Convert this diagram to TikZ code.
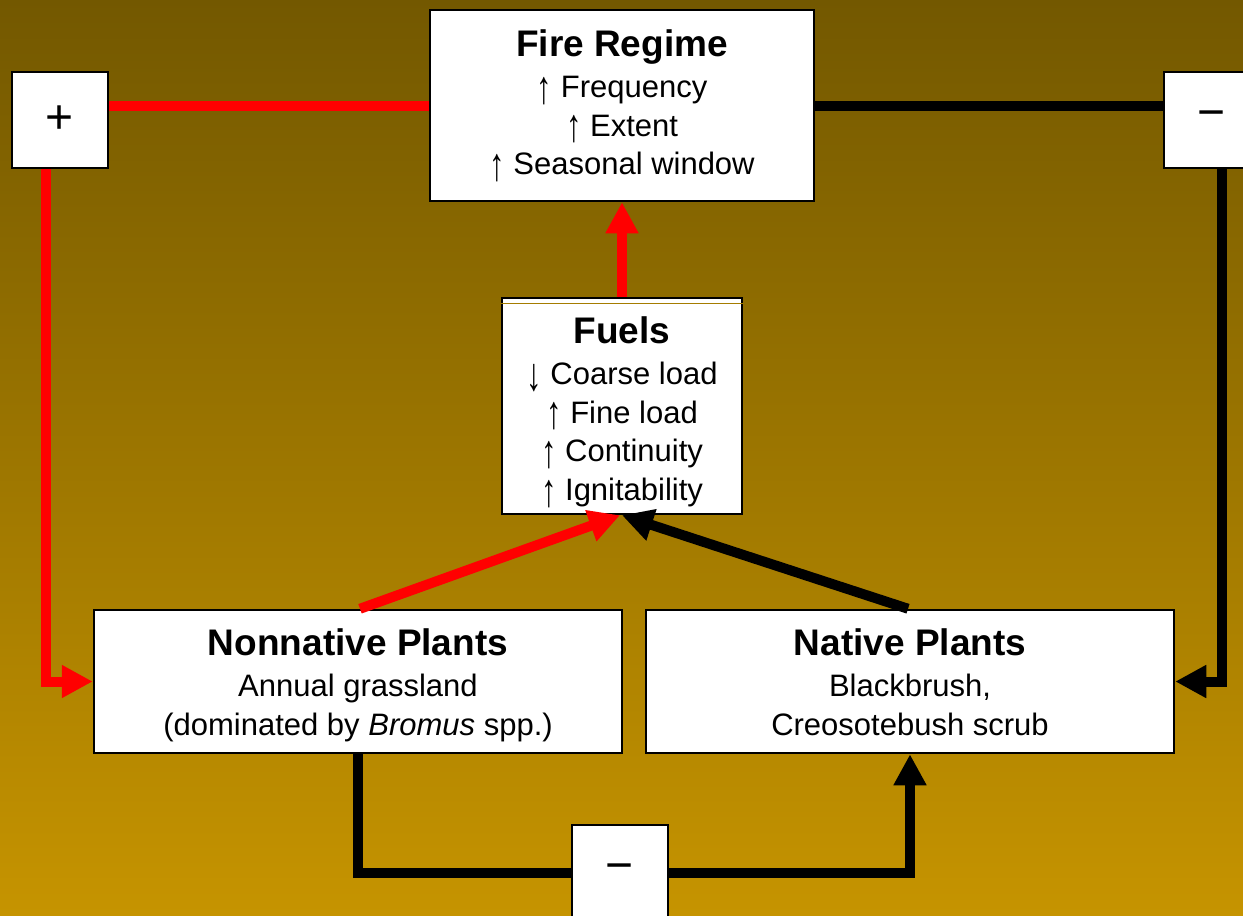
\documentclass[tikz,border=0pt]{standalone}
\usepackage{fontspec}
\usepackage{graphicx}
\setmainfont{Liberation Sans}
\usetikzlibrary{arrows.meta, positioning, calc}
\definecolor{bgtop}{HTML}{735800}
\definecolor{bgbot}{HTML}{C69400}
\tikzset{
    box/.style={ % white boxes
        draw=black,
        line width=2.5pt,
        fill=white,
        inner sep=0pt
    },
    txt/.style={ % text inside the boxes, hung from the top edge
        align=center,
        inner sep=0pt,
        outer sep=0pt,
        font=\fontsize{31pt}{38.7pt}\selectfont
    },
    sign/.style={ % small + / - boxes
        box,
        minimum width=96pt,
        minimum height=96pt,
        font=\fontsize{48pt}{48pt}\selectfont
    },
    link/.style={line width=10pt, line join=miter}, % thick connectors
    posline/.style={link, red},
    negline/.style={link, black},
    headed/.style={-{Triangle[length=31pt,width=31pt]}}, % big flat arrow heads
}
\newcommand{\ttl}[1]{{\fontsize{37pt}{40pt}\selectfont\bfseries #1}\\[2.3pt]}
\newcommand{\up}{\smash{\raisebox{-0.18em}{\scalebox{1}[1.5]{↑}}}}
\newcommand{\dn}{\smash{\raisebox{-0.18em}{\scalebox{1}[1.5]{↓}}}}

\begin{document}
\begin{tikzpicture}[x=1pt, y=-1pt]
    \shade[top color=bgtop, bottom color=bgbot] (0,0) rectangle (1243,916);
    \useasboundingbox (0,0) rectangle (1243,916);

    \node[box, minimum width=384pt, minimum height=191pt] (fire)   at (622,105.5) {};
    \node[box, minimum width=240pt, minimum height=216pt] (fuels)  at (622,406)   {};
    \node[box, minimum width=528pt, minimum height=143pt] (nonnat) at (358,681.5) {};
    \node[box, minimum width=528pt, minimum height=143pt] (native) at (910,681.5) {};
    \node[sign] (plus)   at (60,120)   {+};
    \node[sign] (minusR) at (1212,120) {−};
    \node[sign] (minusB) at (620,873)  {−};

    \node[txt, below=21pt of fire.north]   (fireT)
        {\ttl{Fire Regime}\up\ Frequency\\ \up\ Extent\\ \up\ Seasonal window};
    \node[txt, below=20pt of fuels.north]  (fuelsT)
        {\ttl{Fuels}\dn\ Coarse load\\ \up\ Fine load\\ \up\ Continuity\\ \up\ Ignitability};
    \node[txt, below=20pt of nonnat.north] (nonnatT)
        {\ttl{Nonnative Plants}Annual grassland\\ (dominated by \textit{Bromus} spp.)};
    \node[txt, below=20pt of native.north] (nativeT)
        {\ttl{Native Plants}Blackbrush,\\ Creosotebush scrub};

    % thin line under the top edge of the fuels box
    \draw[line width=1.2pt, bgtop!40!bgbot]
        ([yshift=-7pt]fuels.north west) -- ([yshift=-7pt]fuels.north east);

    % positive loop
    \draw[posline] (fire.west) -- (fire.west -| plus.east);
    \draw[posline, headed] ([xshift=-14pt]plus.south) |- (nonnat.west);
    \draw[posline, headed] (fuels.north) -- (fire.south);
    \draw[posline, headed] ([xshift=2pt]nonnat.north) -- ([xshift=-2pt]fuels.south);

    % negative loops
    \draw[negline] (fire.east) -- (fire.east -| minusR.west);
    \draw[negline, headed] ([xshift=10pt]minusR.south) |- (native.east);
    \draw[negline, headed] ([xshift=-2pt]native.north) -- (fuels.south);
    \draw[negline] (nonnat.south) |- (minusB.west);
    \draw[negline, headed] (minusB.east) -| (native.south);
\end{tikzpicture}
\end{document}
